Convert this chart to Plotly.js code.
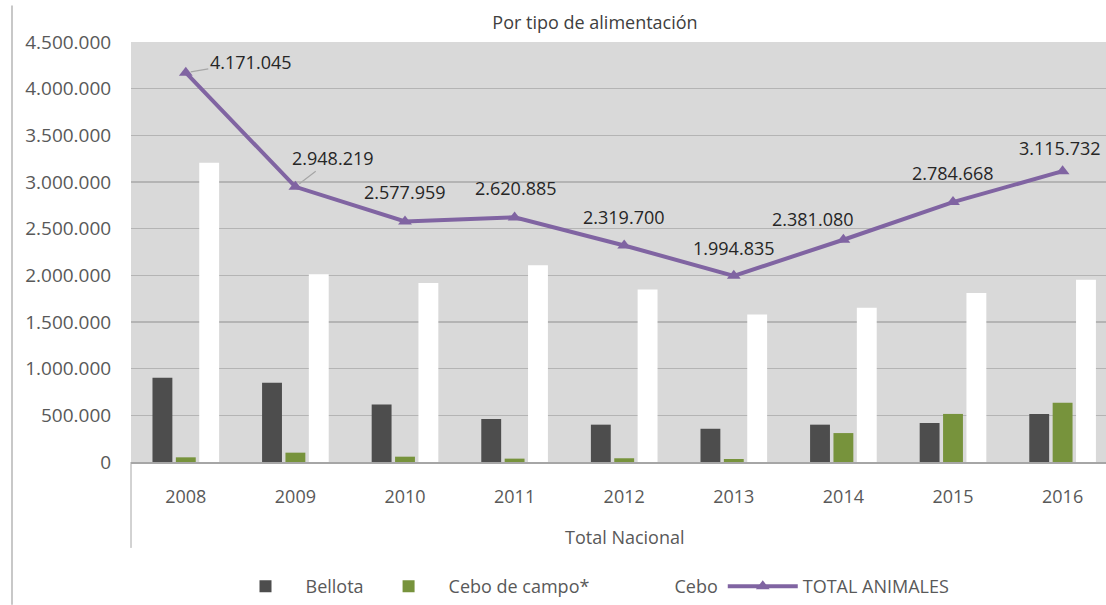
<!DOCTYPE html>
<html>
<head>
<meta charset="utf-8">
<script src="https://cdn.plot.ly/plotly-3.0.1.min.js"></script>
<style>html,body{margin:0;padding:0;background:#fff}#chart{width:1106px;height:605px}</style>
</head>
<body>
<div id="chart"></div>
<script>
const years = ["2008","2009","2010","2011","2012","2013","2014","2015","2016"];
const bellota = [904000, 850000, 615000, 461000, 400000, 356000, 400000, 418000, 515000];
const ceboCampo = [50000, 100000, 57000, 36000, 40000, 32000, 310000, 515000, 634000];
const cebo = [3207000, 2012000, 1919000, 2109000, 1847000, 1580000, 1652000, 1811000, 1954000];
const totalAnimales = [4171045, 2948219, 2577959, 2620885, 2319700, 1994835, 2381080, 2784668, 3115732];
const totalLabels = ["4.171.045","2.948.219","2.577.959","2.620.885","2.319.700","1.994.835","2.381.080","2.784.668","3.115.732"];
const yTicks = [0,500000,1000000,1500000,2000000,2500000,3000000,3500000,4000000,4500000];
const yTickText = ["0","500.000","1.000.000","1.500.000","2.000.000","2.500.000","3.000.000","3.500.000","4.000.000","4.500.000"];

const FONT = "'Open Sans', sans-serif";
const labelOffsets = [[65,-11],[38,-29],[0,-29],[1,-29],[0,-28],[0,-28],[-30,-21],[0,-29],[-3,-23]];
const leader = [true,true,false,false,false,false,false,false,false];

const traces = [
  {type:'bar', name:'Bellota', x:years, y:bellota, marker:{color:'#4d4d4d', line:{width:0}}},
  {type:'bar', name:'Cebo de campo*', x:years, y:ceboCampo, marker:{color:'#77933c', line:{width:0}}},
  {type:'bar', name:'Cebo', x:years, y:cebo, marker:{color:'#ffffff', line:{width:0}}},
  {type:'scatter', mode:'lines+markers', name:'TOTAL ANIMALES', x:years, y:totalAnimales,
   line:{color:'#8064a2', width:4}, marker:{symbol:'triangle-up', size:12, color:'#8064a2'}}
];

const annotations = years.map((yr,i)=>({
  x: i, y: totalAnimales[i], xref:'x', yref:'y',
  text: totalLabels[i], showarrow: true, arrowhead: 0, arrowwidth: 1.2,
  arrowcolor: leader[i] ? '#a6a6a6' : 'rgba(0,0,0,0)', standoff: 5,
  ax: labelOffsets[i][0], ay: labelOffsets[i][1],
  font:{family:FONT, size:18, color:'#262626'}
}));
annotations.push({
  text:'Total Nacional', xref:'paper', yref:'paper', x:(625-131)/975, y:-(537-462)/420.5,
  showarrow:false, xanchor:'center', yanchor:'middle', font:{family:FONT, size:18, color:'#595959'}
});

const layout = {
  width:1106, height:605,
  margin:{l:131, r:0, t:41.5, b:143},
  paper_bgcolor:'#ffffff', plot_bgcolor:'#d9d9d9',
  title:{text:'Por tipo de alimentación', xref:'container', yref:'container', x:595/1106, y:1-23/605,
         xanchor:'center', yanchor:'middle', font:{family:FONT, size:18, color:'#404040'}},
  barmode:'group', bargap:0.36, bargroupgap:0.15,
  xaxis:{type:'category', range:[-0.5, 8.396], showgrid:false, zeroline:false,
         showline:true, linecolor:'#a6a6a6', linewidth:1.5,
         ticks:'outside', ticklen:18, tickcolor:'rgba(0,0,0,0)',
         tickfont:{family:FONT, size:18, color:'#595959'}},
  yaxis:{range:[0,4500000], tickvals:yTicks, ticktext:yTickText, showgrid:true,
         gridcolor:'#b4b4b4', gridwidth:1.5, zeroline:false, showline:false,
         ticks:'outside', ticklen:15, tickcolor:'rgba(0,0,0,0)',
         tickfont:{family:FONT, size:19, color:'#595959'}},
  legend:{orientation:'h', x:(590-131)/975, xanchor:'center', y:-(587-462)/420.5, yanchor:'middle',
          itemwidth:70, font:{family:FONT, size:18, color:'#595959'}, bgcolor:'rgba(0,0,0,0)', traceorder:'normal'},
  annotations: annotations,
  shapes:[
    {type:'line', xref:'paper', yref:'paper', x0:0, x1:0, y0:0, y1:-(548-462)/420.5, line:{color:'#a6a6a6', width:1}},
    {type:'line', xref:'paper', yref:'paper', x0:(12-131)/975, x1:(12-131)/975, y0:(462-5)/420.5, y1:-(605-462)/420.5, line:{color:'#c8c8c8', width:2}}
  ],
  showlegend:true
};

Plotly.newPlot('chart', traces, layout, {displayModeBar:false, staticPlot:true});
</script>
</body>
</html>
